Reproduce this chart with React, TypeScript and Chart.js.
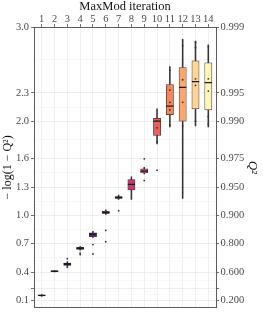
import { useEffect, useRef } from 'react';
import { Chart, registerables } from 'chart.js';

Chart.register(...registerables);

const iterations = [1, 2, 3, 4, 5, 6, 7, 8, 9, 10, 11, 12, 13, 14];
const whiskerLow = [0.14, 0.4, 0.445, 0.63, 0.765, 1.01, 1.17, 1.17, 1.44, 1.76, 1.94, 1.18, 1.95, 1.94];
const q1 = [0.146, 0.403, 0.47, 0.64, 0.775, 1.02, 1.18, 1.27, 1.45, 1.85, 2.07, 2.0, 2.13, 2.12];
const median = [0.15, 0.407, 0.485, 0.65, 0.8, 1.03, 1.19, 1.33, 1.47, 2.0, 2.16, 2.36, 2.42, 2.41];
const q3 = [0.154, 0.411, 0.495, 0.66, 0.815, 1.045, 1.2, 1.38, 1.495, 2.03, 2.39, 2.57, 2.64, 2.62];
const whiskerHigh = [0.16, 0.415, 0.51, 0.67, 0.83, 1.06, 1.215, 1.41, 1.51, 2.13, 2.58, 2.87, 2.85, 2.81];

const pointIteration = [3, 4, 4, 5, 5, 6, 6, 7, 9, 9, 10, 10, 10, 10, 11, 11, 11, 11, 11, 12, 12, 12, 12, 13, 13, 13, 13, 13, 14, 14, 14, 14, 14];
const pointValue = [0.54, 0.6, 0.585, 0.69, 0.59, 0.84, 0.72, 1.05, 1.6, 1.37, 1.48, 2.0, 1.93, 1.78, 2.33, 2.2, 2.12, 1.96, 2.54, 2.8, 2.44, 2.2, 1.95, 2.84, 2.78, 2.45, 2.38, 2.0, 1.97, 2.79, 2.45, 2.32, 2.05, 1.95];

const boxColors = ['#000004', '#110a2c', '#290f54', '#481178', '#6a1c80', '#872680', '#a6327d', '#c43b73', '#d9476a', '#ec5f58', '#f8845b', '#fca76f', '#fed596', '#fdf6b8'];

const q2Breaks = [0.2, 0.4, 0.6, 0.8, 0.9, 0.95, 0.975, 0.99, 0.995, 0.999];
const q2Labels = ['0.200', '', '0.600', '0.800', '0.900', '0.950', '0.975', '0.990', '0.995', '0.999'];
const leftLabels = ['0.1', '', '0.4', '0.7', '1.0', '1.3', '1.6', '2.0', '2.3', '3.0'];

const majorTicks = q2Breaks.map((q) => -Math.log10(1 - q));
const minorTicks = majorTicks.slice(1).map((v, i) => (v + majorTicks[i]) / 2);

const Y_MIN = 0.02;
const Y_MAX = 3.0;
const X_MIN = 0.4;
const X_MAX = 14.6;

const FONT = "'Liberation Serif', 'DejaVu Serif', serif";
const AXIS = '#4a4a4a';

function isMajor(v: number) {
  return majorTicks.some((m) => Math.abs(m - v) < 1e-6);
}
function labelFor(v: number, labels: string[]) {
  const i = majorTicks.findIndex((m) => Math.abs(m - v) < 1e-6);
  return i >= 0 ? labels[i] : '';
}

export default function App() {
  const ref = useRef<HTMLCanvasElement>(null);
  useEffect(() => {
    if (!ref.current) return;
    const chart = new Chart(ref.current, {
      type: 'bar',
      data: {
        datasets: [
          {
            type: 'scatter',
            data: pointIteration.map((x, i) => ({ x, y: pointValue[i] })),
            pointRadius: 0.9,
            pointBackgroundColor: '#333',
            pointBorderWidth: 0,
            order: 0,
          } as any,
          {
            type: 'scatter',
            data: iterations.map((x, i) => ({ x, y: median[i] })),
            pointStyle: 'line',
            pointRadius: 3.6,
            pointBorderColor: '#1a1a1a',
            pointBorderWidth: 1.3,
            order: 1,
          } as any,
          {
            type: 'bar',
            data: iterations.map((x, i) => ({ x, y: [q1[i], q3[i]] })),
            backgroundColor: boxColors,
            borderColor: '#333',
            borderWidth: 0.7,
            borderSkipped: false,
            barThickness: 7.2,
            grouped: false,
            order: 2,
          } as any,
          {
            type: 'bar',
            data: iterations.map((x, i) => ({ x, y: [whiskerLow[i], whiskerHigh[i]] })),
            backgroundColor: '#333',
            borderWidth: 0,
            barThickness: 0.9,
            grouped: false,
            order: 3,
          } as any,
        ],
      },
      options: {
        responsive: false,
        animation: false,
        events: [],
        plugins: { legend: { display: false }, tooltip: { enabled: false } },
        layout: { padding: 0 },
        scales: {
          x: {
            type: 'linear',
            position: 'top',
            min: X_MIN,
            max: X_MAX,
            offset: false,
            afterBuildTicks: (s: any) => {
              s.ticks = iterations.map((v) => ({ value: v }));
            },
            afterFit: (s: any) => {
              s.height = 27;
            },
            ticks: {
              autoSkip: false,
              maxRotation: 0,
              padding: 0,
              color: AXIS,
              font: { family: FONT, size: 10.5, lineHeight: 1 },
              callback: (v: any) => String(v),
            },
            grid: { color: '#ebebeb', lineWidth: 0.8, offset: false, tickLength: 3, tickColor: AXIS, tickWidth: 0.8 },
            border: { color: AXIS, width: 0.9 },
            title: {
              display: true,
              text: 'MaxMod iteration',
              color: '#111',
              font: { family: FONT, size: 12.5, lineHeight: 1 },
              padding: { top: 0, bottom: 0 },
            },
          },
          x2: {
            type: 'linear',
            position: 'bottom',
            min: X_MIN,
            max: X_MAX,
            offset: false,
            afterFit: (s: any) => {
              s.height = 6;
            },
            ticks: { display: false },
            grid: { display: false, drawTicks: false },
            border: { color: AXIS, width: 0.9 },
          },
          y: {
            type: 'linear',
            position: 'left',
            min: Y_MIN,
            max: Y_MAX,
            afterBuildTicks: (s: any) => {
              s.ticks = [...majorTicks, ...minorTicks].sort((a, b) => a - b).map((v) => ({ value: v }));
            },
            afterFit: (s: any) => {
              s.width = 34;
            },
            ticks: {
              autoSkip: false,
              padding: 2,
              color: AXIS,
              font: { family: FONT, size: 10.5 },
              callback: (v: any) => labelFor(Number(v), leftLabels),
            },
            grid: {
              color: (c: any) => (c.tick && isMajor(c.tick.value) ? '#ebebeb' : '#f4f4f4'),
              lineWidth: (c: any) => (c.tick && isMajor(c.tick.value) ? 0.9 : 0.6),
              tickLength: 3,
              tickColor: (c: any) => (c.tick && isMajor(c.tick.value) ? AXIS : 'rgba(0,0,0,0)'),
              tickWidth: 0.8,
            },
            border: { color: AXIS, width: 0.9 },
            title: {
              display: true,
              text: '− log(1 − Q²)',
              color: '#111',
              font: { family: FONT, size: 12 },
              padding: { top: 1, bottom: 0 },
            },
          },
          y2: {
            type: 'linear',
            position: 'right',
            min: Y_MIN,
            max: Y_MAX,
            afterBuildTicks: (s: any) => {
              s.ticks = majorTicks.map((v) => ({ value: v }));
            },
            afterFit: (s: any) => {
              s.width = 47;
            },
            ticks: {
              autoSkip: false,
              padding: 1.5,
              color: AXIS,
              font: { family: FONT, size: 10.5 },
              callback: (v: any) => labelFor(Number(v), q2Labels),
            },
            grid: { drawOnChartArea: false, tickLength: 3, tickColor: AXIS, tickWidth: 0.8 },
            border: { color: AXIS, width: 0.9 },
            title: {
              display: true,
              text: 'Q²',
              color: '#111',
              font: { family: FONT, size: 13, style: 'italic' },
              padding: { top: 2.5, bottom: 0 },
            },
          },
        },
      } as any,
    });
    return () => chart.destroy();
  }, []);
  return (
    <div style={{ position: 'absolute', left: 0, top: 0, width: 263, height: 316 }}>
      <canvas ref={ref} width={263} height={316} style={{ display: 'block' }} />
    </div>
  );
}
